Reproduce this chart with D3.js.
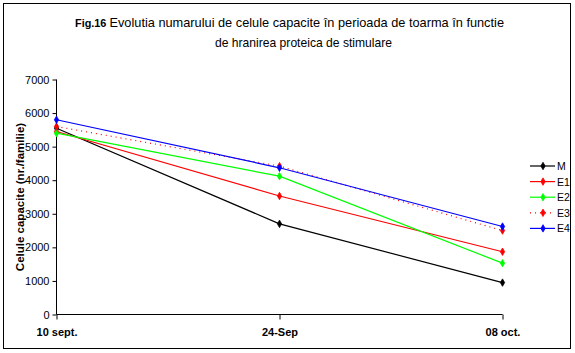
<!DOCTYPE html>
<html><head><meta charset="utf-8">
<script src="https://cdn.jsdelivr.net/npm/d3@7"></script>
<style>body{margin:0;background:#fff}svg{display:block;font-family:Arial,"Liberation Sans",sans-serif}</style>
</head><body><svg id="c" width="575" height="353"></svg>
<script>
const categories = ["10 sept.", "24-Sep", "08 oct."];
const seriesNames = ["M", "E1", "E2", "E3", "E4"];
const valuesM  = [5550, 2700, 950];
const valuesE1 = [5450, 3530, 1870];
const valuesE2 = [5400, 4120, 1530];
const valuesE3 = [5600, 4420, 2500];
const valuesE4 = [5800, 4370, 2620];
const yTicks = [0, 1000, 2000, 3000, 4000, 5000, 6000, 7000];
const colors = ["#000000", "#ff0000", "#00ff00", "#ff0000", "#0000ff"];
const dashes = [null, null, null, "1,4", null];
const allValues = [valuesM, valuesE1, valuesE2, valuesE3, valuesE4];

const svg = d3.select("#c");
svg.append("rect").attr("x",3.5).attr("y",3.5).attr("width",567).attr("height",345)
  .attr("fill","#fff").attr("stroke","#000").attr("stroke-width",1);

const x = d3.scalePoint().domain(categories).range([56.5, 502.5]);
const y = d3.scaleLinear().domain([0, 7000]).range([314.5, 79.5]);

// title
const t = svg.append("text").attr("x", 75).attr("y", 27).attr("font-size",13.5)
  .attr("textLength", 429).attr("lengthAdjust","spacingAndGlyphs");
t.append("tspan").attr("font-weight","bold").attr("font-size",11.5).text("Fig.16 ");
t.append("tspan").text("Evolutia numarului de celule capacite în perioada de toarma în functie");
svg.append("text").attr("x", 215).attr("y", 47).attr("font-size",13.5)
  .attr("textLength", 177).attr("lengthAdjust","spacingAndGlyphs")
  .text("de hranirea proteica de stimulare");

// axes
const yAxis = d3.axisLeft(y).tickValues(yTicks).tickSize(4).tickPadding(3).tickFormat(d3.format("d"));
const gy = svg.append("g").attr("transform","translate(56.5,0)").call(yAxis);
gy.select(".domain").attr("d", `M0,${y(7000)}V${y(0)}`);
gy.selectAll("text").attr("font-size",11).attr("font-family","Arial, Liberation Sans, sans-serif");

const xAxis = d3.axisBottom(x).tickSize(5).tickPadding(9);
const gx = svg.append("g").attr("transform",`translate(0,${y(0)})`).call(xAxis);
gx.select(".domain").attr("d", `M${x.range()[0]},0H${x.range()[1]}`);
gx.selectAll("text").attr("font-size",11).attr("font-weight","bold").attr("font-family","Arial, Liberation Sans, sans-serif");

// y title
svg.append("text").attr("transform","translate(24,197) rotate(-90)").attr("text-anchor","middle")
  .attr("font-size",11.5).attr("font-weight","bold").text("Celule capacite (nr./familie)");

const line = d3.line().x((d,i)=>x(categories[i])).y(d=>y(d));
const diamond = d3.symbol().type(d3.symbolDiamond).size(16);

allValues.forEach((vals, si) => {
  const g = svg.append("g");
  g.append("path").attr("d", line(vals)).attr("fill","none").attr("stroke",colors[si])
    .attr("stroke-width",1.2).attr("stroke-dasharray",dashes[si]);
  g.selectAll("path.m").data(vals).join("path").attr("class","m")
    .attr("d", diamond).attr("transform",(d,i)=>`translate(${x(categories[i])},${y(d)})`)
    .attr("fill",colors[si]).attr("stroke",colors[si]).attr("stroke-width",0.8);
});

// legend
const lg = svg.append("g");
seriesNames.forEach((n, i) => {
  const ly = 166 + i * 15.6;
  lg.append("line").attr("x1",530).attr("x2",555).attr("y1",ly).attr("y2",ly)
    .attr("stroke",colors[i]).attr("stroke-width",1.2).attr("stroke-dasharray",dashes[i]);
  lg.append("path").attr("d",diamond).attr("transform",`translate(543,${ly})`)
    .attr("fill",colors[i]).attr("stroke",colors[i]).attr("stroke-width",0.8);
  lg.append("text").attr("x",557).attr("y",ly+4).attr("font-size",10.5).text(n);
});
</script></body></html>
